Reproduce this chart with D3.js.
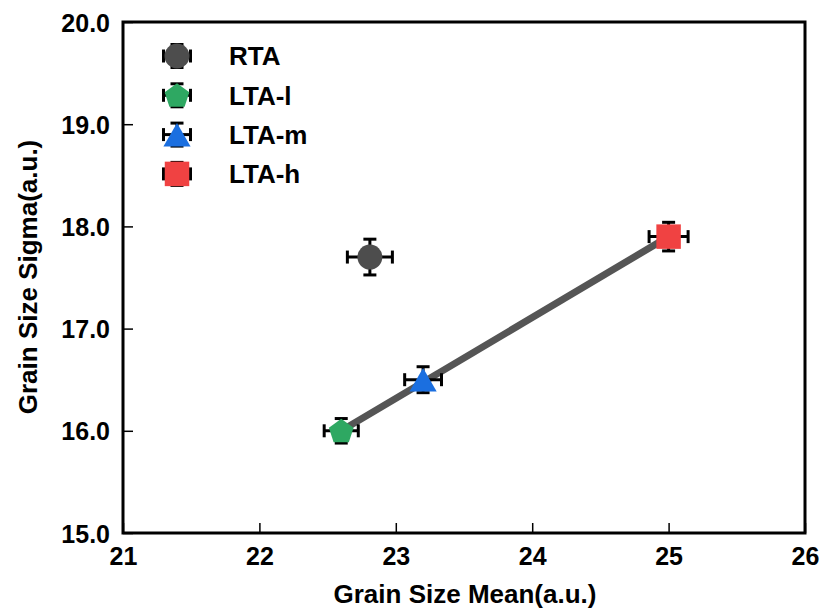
<!DOCTYPE html>
<html>
<head>
<meta charset="utf-8">
<script src="https://cdn.jsdelivr.net/npm/d3@7"></script>
<style>
body { margin: 0; background: #fff; }
text { font-family: "Liberation Sans", Arial, sans-serif; font-weight: bold; }
</style>
</head>
<body>
<div id="chart"></div>
<script>
// data
const names = ["RTA", "LTA-l", "LTA-m", "LTA-h"];
const meanVals = [22.81, 22.6, 23.2, 25.0];
const sigmaVals = [17.7, 16.0, 16.5, 17.9];
const meanErr = [0.165, 0.125, 0.135, 0.143];
const sigmaErr = [0.175, 0.12, 0.127, 0.14];
const colors = ["#4d4d4d", "#2ea862", "#1b6fe0", "#f04242"];
const shapes = [d3.symbolCircle, "pentagon", d3.symbolTriangle, d3.symbolSquare];
const fitX = [22.6, 25.0];
const fitY = [16.0, 17.9];
const xTicks = [21, 22, 23, 24, 25, 26];
const yTicks = [15, 16, 17, 18, 19, 20];

const W = 823, H = 610;
const m = {left: 123, right: 18, top: 22, bottom: 77};

let svg = d3.select("#chart").append("svg")
    .attr("width", W)
    .attr("height", H);

let x = d3.scaleLinear().domain([21, 26]).range([m.left, W - m.right]);
let y = d3.scaleLinear().domain([15, 20]).range([H - m.bottom, m.top]);

// pentagon symbol
const pentagon = {
    draw(ctx, size) {
        let r = Math.sqrt(size / 2.378);
        for (let i = 0; i < 5; i++) {
            let a = -Math.PI / 2 + i * 2 * Math.PI / 5;
            let px = r * Math.cos(a), py = r * Math.sin(a);
            if (i == 0) ctx.moveTo(px, py); else ctx.lineTo(px, py);
        }
        ctx.closePath();
    }
};
const symSize = [490, 400, 320, 600];
const symShift = [0, 1, 4, 0];
function sym(i) {
    let s = shapes[i] == "pentagon" ? pentagon : shapes[i];
    return d3.symbol().type(s).size(symSize[i])();
}

// axes, ticks inward
let xAxis = d3.axisBottom(x).tickValues(xTicks).tickSize(-10).tickPadding(0).tickFormat(d3.format("d"));
let yAxis = d3.axisLeft(y).tickValues(yTicks).tickSize(-10).tickPadding(13).tickFormat(d3.format(".1f"));

let gx = svg.append("g").attr("transform", `translate(0,${H - m.bottom})`).call(xAxis);
let gy = svg.append("g").attr("transform", `translate(${m.left},0)`).call(yAxis);
[gx, gy].forEach(g => {
    g.select(".domain").remove();
    g.selectAll(".tick line").attr("stroke", "#000").attr("stroke-width", 1.5);
    g.selectAll(".tick text").attr("font-size", 25).attr("fill", "#000");
});
gx.selectAll(".tick text").attr("y", 32).attr("dy", 0);
gy.selectAll(".tick text").attr("dy", "0.36em");

// frame
svg.append("rect")
    .attr("x", m.left).attr("y", m.top)
    .attr("width", W - m.right - m.left)
    .attr("height", H - m.bottom - m.top)
    .attr("fill", "none").attr("stroke", "#000").attr("stroke-width", 3);

// axis titles
svg.append("text")
    .attr("x", 465)
    .attr("y", 603)
    .attr("text-anchor", "middle")
    .attr("font-size", 26)
    .text("Grain Size Mean(a.u.)");
svg.append("text")
    .attr("transform", `translate(37,277) rotate(-90)`)
    .attr("text-anchor", "middle")
    .attr("font-size", 26)
    .text("Grain Size Sigma(a.u.)");

// fit line
svg.append("line")
    .attr("x1", x(fitX[0])).attr("y1", y(fitY[0]))
    .attr("x2", x(fitX[1])).attr("y2", y(fitY[1]))
    .attr("stroke", "#555").attr("stroke-width", 7);

function errBar(g, cx, cy, dx, dy) {
    let cap = 6.5;
    g.append("line").attr("x1", cx - dx).attr("x2", cx + dx).attr("y1", cy).attr("y2", cy);
    g.append("line").attr("x1", cx).attr("x2", cx).attr("y1", cy - dy).attr("y2", cy + dy);
    g.append("line").attr("x1", cx - dx).attr("x2", cx - dx).attr("y1", cy - cap).attr("y2", cy + cap);
    g.append("line").attr("x1", cx + dx).attr("x2", cx + dx).attr("y1", cy - cap).attr("y2", cy + cap);
    g.append("line").attr("x1", cx - cap).attr("x2", cx + cap).attr("y1", cy - dy).attr("y2", cy - dy);
    g.append("line").attr("x1", cx - cap).attr("x2", cx + cap).attr("y1", cy + dy).attr("y2", cy + dy);
    g.selectAll("line").attr("stroke", "#000").attr("stroke-width", 3);
}

// points
names.forEach((n, i) => {
    let cx = x(meanVals[i]), cy = y(sigmaVals[i]);
    let g = svg.append("g");
    errBar(g, cx, cy, x(meanVals[i] + meanErr[i]) - cx, cy - y(sigmaVals[i] + sigmaErr[i]));
    g.append("path")
        .attr("d", sym(i))
        .attr("transform", `translate(${cx},${cy + symShift[i]})`)
        .attr("fill", colors[i]);
});

// legend
names.forEach((n, i) => {
    let lx = 177, ly = 56 + i * 39.3;
    let g = svg.append("g");
    errBar(g, lx, ly, 13.5, 11.5);
    g.append("path")
        .attr("d", sym(i))
        .attr("transform", `translate(${lx},${ly + symShift[i]})`)
        .attr("fill", colors[i]);
    svg.append("text")
        .attr("x", 229).attr("y", ly)
        .attr("dy", "0.36em")
        .attr("font-size", 26)
        .text(n);
});
</script>
</body>
</html>
